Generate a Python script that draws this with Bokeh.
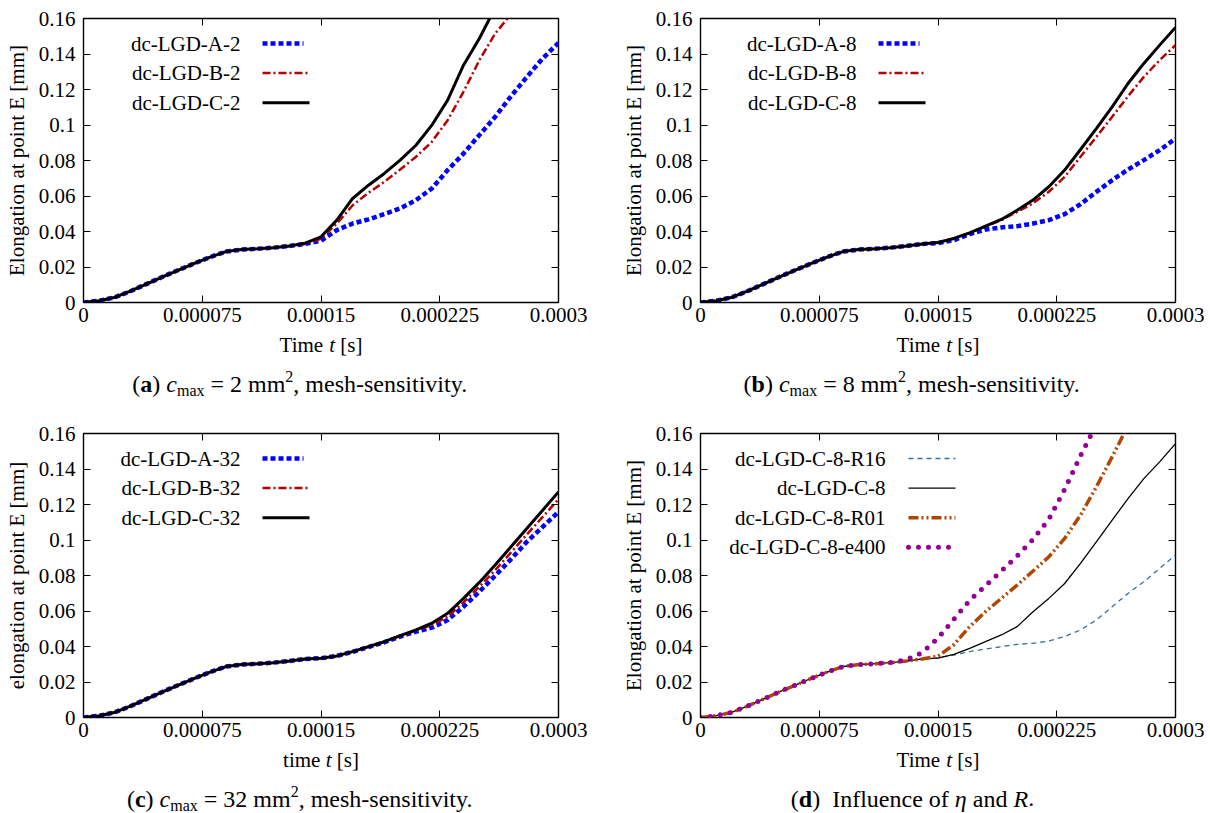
from bokeh.plotting import figure
from bokeh.layouts import column, row
from bokeh.models import Label, LinearAxis, FixedTicker, Range1d
from bokeh.embed import file_html
from bokeh.resources import INLINE

# ---------------- data ----------------
time_s = [0.0, 1e-05, 2e-05, 3e-05, 4e-05, 5e-05, 6e-05, 7e-05, 8e-05, 9e-05,
          0.0001, 0.00011, 0.00012, 0.00013, 0.00014, 0.00015, 0.00016, 0.00017,
          0.00018, 0.00019, 0.0002, 0.00021, 0.00022, 0.00023, 0.00024, 0.00025,
          0.00026, 0.00027, 0.00028, 0.00029, 0.0003]

# common start of all curves (t = 0 ... 0.00014 s)
early = [0.0, 0.001, 0.003, 0.0065, 0.0105, 0.0145, 0.0183, 0.022, 0.0256,
         0.0287, 0.0298, 0.0303, 0.0309, 0.0318, 0.033]

# (a) c_max = 2
a_A2 = early + [0.0348, 0.0408, 0.0445, 0.0468, 0.0498, 0.053, 0.0577, 0.0642, 0.0746,
                0.0839, 0.0943, 0.1046, 0.1162, 0.1271, 0.1375, 0.1463]
a_B2 = early + [0.036, 0.0445, 0.0548, 0.0618, 0.068, 0.0749, 0.0821, 0.0905, 0.1027,
                0.1187, 0.1365, 0.1515, 0.1625]
a_C2 = early[:-1] + [0.0334, 0.037, 0.0464, 0.0586, 0.0661, 0.0727, 0.0802, 0.0886,
                     0.0999, 0.114, 0.1337, 0.1487, 0.166]

# (b) c_max = 8
b_A8 = early + [0.0335, 0.0351, 0.0385, 0.0411, 0.0423, 0.043, 0.0445, 0.0464, 0.0498,
                0.0554, 0.0623, 0.0689, 0.0749, 0.0802, 0.0858, 0.0924]
b_B8 = early + [0.0338, 0.0361, 0.0392, 0.0428, 0.0464, 0.0511, 0.0558, 0.0624, 0.0708,
                0.0821, 0.0933, 0.1046, 0.1162, 0.1271, 0.1365, 0.145]
b_C8 = early + [0.0338, 0.0361, 0.0392, 0.043, 0.0468, 0.052, 0.0577, 0.0652, 0.0746,
                0.0862, 0.098, 0.1102, 0.1234, 0.1347, 0.145, 0.155]

# (c) c_max = 32
c_A32 = early + [0.0334, 0.0347, 0.037, 0.0397, 0.0424, 0.0456, 0.0484, 0.0506, 0.0549,
                 0.0624, 0.0709, 0.0799, 0.0892, 0.099, 0.1074, 0.1159]
c_B32 = early + [0.0334, 0.0347, 0.0371, 0.0399, 0.0426, 0.0459, 0.049, 0.0521, 0.0568,
                 0.0649, 0.0737, 0.083, 0.093, 0.1031, 0.113, 0.123]
c_C32 = early + [0.0334, 0.0347, 0.0371, 0.0399, 0.0427, 0.0461, 0.0493, 0.0531, 0.0587,
                 0.0671, 0.0761, 0.0859, 0.0962, 0.1065, 0.1168, 0.1271]

# (d) influence of eta and R
d_R16 = early + [0.0337, 0.0352, 0.0371, 0.0386, 0.0399, 0.0412, 0.0418, 0.0431, 0.0456,
                 0.0493, 0.0549, 0.0624, 0.0699, 0.0765, 0.084, 0.0915]
d_C8 = early + [0.0334, 0.0356, 0.039, 0.0427, 0.0465, 0.0512, 0.0596, 0.0671, 0.0755,
                0.0868, 0.099, 0.1112, 0.1233, 0.1346, 0.144, 0.1543]
d_R01 = early + [0.0345, 0.041, 0.0512, 0.0596, 0.0671, 0.0746, 0.0825, 0.0905, 0.1009,
                 0.114, 0.1299, 0.1468, 0.1645]
d_e400 = early[:13] + [0.0325, 0.0365, 0.0447, 0.0553, 0.066, 0.0743, 0.0825, 0.091,
                       0.1003, 0.1117, 0.1285, 0.1475, 0.165]

x_ticks = [0.0, 0.000075, 0.00015, 0.000225, 0.0003]
x_tick_labels = ["0", "0.000075", "0.00015", "0.000225", "0.0003"]
y_ticks = [0.0, 0.02, 0.04, 0.06, 0.08, 0.1, 0.12, 0.14, 0.16]
y_tick_labels = ["0", "0.02", "0.04", "0.06", "0.08", "0.1", "0.12", "0.14", "0.16"]

# ---------------- styling ----------------
FONT = "Liberation Serif"
TICK_FS = 21
AX_FS = 21
LEG_FS = 21
CAP_FS = 24
SUB_FS = 16
XMAX, YMAX = 0.0003, 0.16
FW, FH = 475, 284
BOT = 30   # bottom border of the plot figures (tick labels)

STY = {
    "A": dict(line_color="#0000ff", line_width=4.5, line_dash="5 3"),
    "B": dict(line_color="#b40000", line_width=2.5, line_dash="8 3 2 3"),
    "C": dict(line_color="black", line_width=3),
    "R16": dict(line_color="#3b6e96", line_width=1.3, line_dash="5 4"),
    "C8": dict(line_color="black", line_width=1.3),
    "R01": dict(line_color="#b04600", line_width=3.5, line_dash="10 3 2 3 2 3"),
    "e400": dict(line_color="#940094", line_width=5, line_dash="0 10", line_cap="round"),
}

# approximate Times/Liberation Serif advance widths (per 1000 em)
W_N = {" ": 250, "(": 333, ")": 333, ",": 250, "-": 333, ".": 250, "=": 564, "[": 333,
       "]": 333, "0": 500, "1": 500, "2": 500, "3": 500, "8": 500, "I": 333, "T": 611,
       "a": 444, "c": 444, "d": 500, "e": 444, "f": 333, "h": 500, "i": 278, "l": 278,
       "m": 778, "n": 500, "o": 500, "s": 389, "t": 278, "u": 500, "v": 500, "x": 500,
       "y": 500}
W_I = {"c": 444, "t": 278, "R": 611, "η": 500}
W_B = {"a": 500, "b": 556, "c": 444, "d": 556}


def width(s, style, size):
    tab = W_N if style == "normal" else (W_I if style == "italic" else W_B)
    return sum(tab.get(ch, W_N.get(ch, 500)) for ch in s) / 1000.0 * size


def rich_text(p, pieces, cx, ymid):
    """pieces: (text, style, size, dy) placed left to right, centred at cx."""
    total = sum(width(t, st, sz) for t, st, sz, dy in pieces)
    cur = cx - total / 2.0
    for t, st, sz, dy in pieces:
        lead = len(t) - len(t.lstrip(" "))
        txt = t.strip(" ")
        if txt:
            p.add_layout(Label(x=cur + lead * 0.25 * sz, y=ymid + dy,
                               x_units="screen", y_units="screen", text=txt,
                               text_font=FONT, text_font_size=f"{sz}px",
                               text_font_style=st, text_color="black",
                               text_align="left", text_baseline="middle"))
        cur += width(t, st, sz)


def make_panel(left_b, right_b, top_b, ylabel, series, legend,
               leg_text_x, leg_x0, leg_x1):
    p = figure(frame_width=FW, frame_height=FH, x_range=Range1d(0, XMAX),
               y_range=Range1d(0, YMAX), output_backend="svg", toolbar_location=None,
               min_border_left=left_b, min_border_right=right_b, min_border_top=top_b,
               min_border_bottom=BOT)
    p.xgrid.visible = False
    p.ygrid.visible = False
    p.outline_line_color = "black"
    p.outline_line_width = 1.4
    p.outline_line_alpha = 1.0
    p.background_fill_color = "white"
    p.border_fill_color = "white"

    p.xaxis.ticker = FixedTicker(ticks=x_ticks)
    p.xaxis.major_label_overrides = dict(zip(x_ticks, x_tick_labels))
    p.xaxis.major_label_standoff = 5
    p.yaxis.ticker = FixedTicker(ticks=y_ticks)
    p.yaxis.major_label_overrides = dict(zip(y_ticks, y_tick_labels))
    p.yaxis.major_label_standoff = 8
    p.yaxis.axis_label = ylabel
    p.yaxis.axis_label_standoff = 7
    for ax in p.axis:
        ax.major_tick_in = 7
        ax.major_tick_out = 0
        ax.major_tick_line_color = "black"
        ax.minor_tick_line_color = None
        ax.axis_line_color = None
        ax.major_label_text_font = FONT
        ax.major_label_text_font_size = f"{TICK_FS}px"
        ax.major_label_text_color = "black"
        ax.axis_label_text_font = FONT
        ax.axis_label_text_font_size = f"{AX_FS}px"
        ax.axis_label_text_font_style = "normal"
        ax.axis_label_text_color = "black"

    # mirrored inner ticks on top and right
    for loc, tk in (("above", x_ticks), ("right", y_ticks)):
        ax = LinearAxis(ticker=FixedTicker(ticks=tk), major_tick_in=7, major_tick_out=0,
                        minor_tick_line_color=None, axis_line_color=None,
                        major_label_text_font_size="0px", major_label_standoff=0,
                        major_label_overrides={v: "" for v in tk})
        p.add_layout(ax, loc)

    for ys, key in series:
        p.line(time_s[:len(ys)], ys, **STY[key])

    # legend: label on the left (right aligned), sample on the right
    for i, (txt, key) in enumerate(legend):
        sy = FH - 25 - i * 29.6
        p.add_layout(Label(x=leg_text_x, y=sy, x_units="screen", y_units="screen",
                           text=txt, text_font=FONT, text_font_size=f"{LEG_FS}px",
                           text_color="black", text_align="right",
                           text_baseline="middle"))
        yd = sy / FH * YMAX
        x1 = leg_x1 - (6 if key == "A" else 0)
        p.line([leg_x0 / FW * XMAX, x1 / FW * XMAX], [yd, yd], **STY[key])
    return p


def caption_fig(w, h, xword, xl_cx, xl_mid, caption, cap_cx, cap_mid):
    c = figure(width=w, height=h, x_range=Range1d(0, w), y_range=Range1d(0, h),
               x_axis_type=None, y_axis_type=None, output_backend="svg",
               toolbar_location=None, min_border=0)
    c.outline_line_color = None
    c.grid.visible = False
    c.background_fill_color = "white"
    c.border_fill_color = "white"
    rich_text(c, [(xword + " ", "normal", AX_FS, 0), ("t", "italic", AX_FS, 0),
                  (" [s]", "normal", AX_FS, 0)], xl_cx, h - xl_mid)
    rich_text(c, caption, cap_cx, h - cap_mid)
    return c


def cap_mesh(letter, num):
    return [("(", "normal", CAP_FS, 0), (letter, "bold", CAP_FS, 0), (")", "normal", CAP_FS, 0),
            (" c", "italic", CAP_FS, 0), ("max", "normal", SUB_FS, -7),
            (" = " + num + " mm", "normal", CAP_FS, 0), ("2", "normal", SUB_FS, 7),
            (", mesh-sensitivity.", "normal", CAP_FS, 0)]


cap_d = [("(", "normal", CAP_FS, 0), ("d", "bold", CAP_FS, 0), (")", "normal", CAP_FS, 0),
         ("  Influence of ", "normal", CAP_FS, 0), ("η", "italic", CAP_FS, 0),
         (" and ", "normal", CAP_FS, 0), ("R", "italic", CAP_FS, 0), (".", "normal", CAP_FS, 0)]

LA, RA = 83, 42     # left column borders  (83 + 475 + 42 = 600)
LB, RB = 100, 35    # right column borders (100 + 475 + 35 = 610)

pa = make_panel(LA, RA, 18, "Elongation at point E [mm]",
                [(a_A2, "A"), (a_B2, "B"), (a_C2, "C")],
                [("dc-LGD-A-2", "A"), ("dc-LGD-B-2", "B"), ("dc-LGD-C-2", "C")],
                157, 179, 226)
pb = make_panel(LB, RB, 18, "Elongation at point E [mm]",
                [(b_A8, "A"), (b_B8, "B"), (b_C8, "C")],
                [("dc-LGD-A-8", "A"), ("dc-LGD-B-8", "B"), ("dc-LGD-C-8", "C")],
                156, 178, 225)
pc = make_panel(LA, RA, 10, "elongation at point E [mm]",
                [(c_A32, "A"), (c_B32, "B"), (c_C32, "C")],
                [("dc-LGD-A-32", "A"), ("dc-LGD-B-32", "B"), ("dc-LGD-C-32", "C")],
                157, 179, 226)
pd = make_panel(LB, RB, 10, "Elongation at point E [mm]",
                [(d_R16, "R16"), (d_C8, "C8"), (d_R01, "R01"), (d_e400, "e400")],
                [("dc-LGD-C-8-R16", "R16"), ("dc-LGD-C-8", "C8"),
                 ("dc-LGD-C-8-R01", "R01"), ("dc-LGD-C-8-e400", "e400")],
                185, 208, 255)

# row 1: 18 + 284 + 30 = 332 ; caption strip 91 -> 423
# row 2: 10 + 284 + 30 = 324 ; caption strip 66 -> 813
ca = caption_fig(LA + FW + RA, 91, "Time", LA + FW / 2, 12, cap_mesh("a", "2"), 300, 51)
cb = caption_fig(LB + FW + RB, 91, "Time", LB + FW / 2, 12, cap_mesh("b", "8"), 312, 51)
cc = caption_fig(LA + FW + RA, 66, "time", LA + FW / 2, 12, cap_mesh("c", "32"), 300, 51)
cd = caption_fig(LB + FW + RB, 66, "Time", LB + FW / 2, 12, cap_d, 312, 51)

layout = column(row(pa, pb), row(ca, cb), row(pc, pd), row(cc, cd))
open("out.html", "w").write(file_html(layout, INLINE))
